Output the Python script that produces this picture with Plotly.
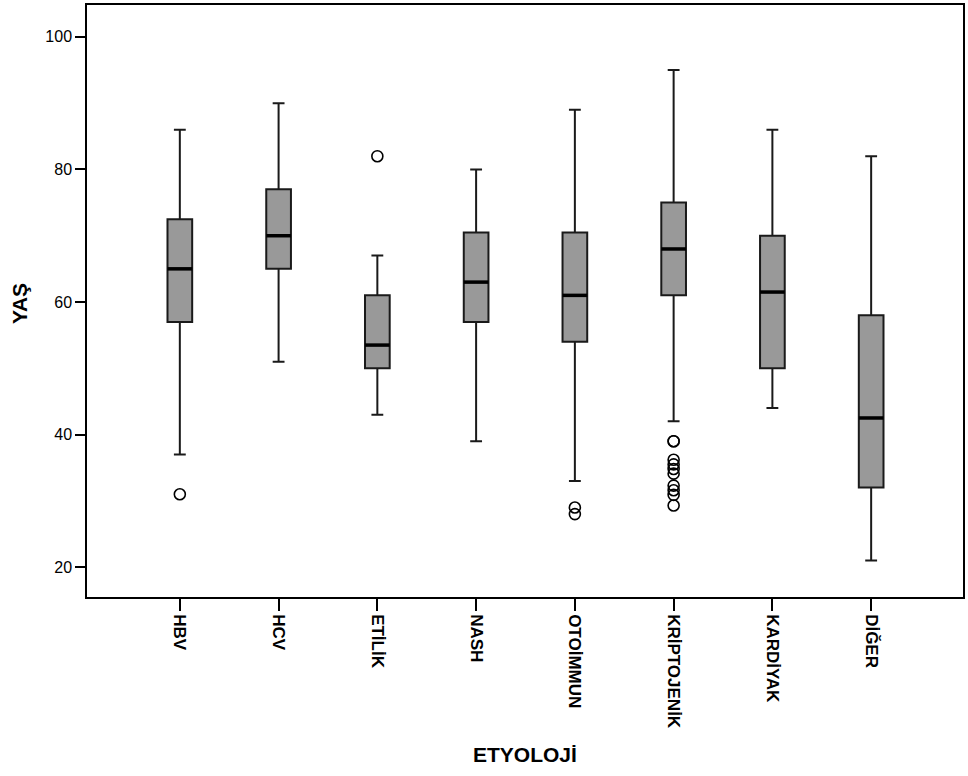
import plotly.graph_objects as go

categories = ["HBV", "HCV", "ETİLİK", "NASH", "OTOİMMUN", "KRİPTOJENİK", "KARDİYAK", "DİĞER"]
lower_whisker = [37, 51, 43, 39, 33, 42, 44, 21]
q1 = [57, 65, 50, 57, 54, 61, 50, 32]
median = [65, 70, 53.5, 63, 61, 68, 61.5, 42.5]
q3 = [72.5, 77, 61, 70.5, 70.5, 75, 70, 58]
upper_whisker = [86, 90, 67, 80, 89, 95, 86, 82]

outlier_cat = ["HBV", "ETİLİK", "OTOİMMUN", "OTOİMMUN",
               "KRİPTOJENİK", "KRİPTOJENİK", "KRİPTOJENİK", "KRİPTOJENİK", "KRİPTOJENİK",
               "KRİPTOJENİK", "KRİPTOJENİK", "KRİPTOJENİK", "KRİPTOJENİK", "KRİPTOJENİK"]
outlier_val = [31, 82, 29, 28,
               39, 39, 36.2, 35.5, 34.8, 34.1, 32.3, 31.6, 30.9, 29.3]

y_ticks = [20, 40, 60, 80, 100]

xpos = list(range(len(categories)))
box_w = 0.25

fig = go.Figure()
fig.add_trace(go.Box(
    x=xpos, q1=q1, median=median, q3=q3,
    lowerfence=lower_whisker, upperfence=upper_whisker,
    width=box_w, whiskerwidth=0.48,
    fillcolor="rgb(153,153,153)",
    line=dict(color="#1a1a1a", width=2),
    boxpoints=False, showlegend=False, hoverinfo="skip",
))

# thicker median lines
mx, my = [], []
for i, m in zip(xpos, median):
    mx += [i - box_w / 2, i + box_w / 2, None]
    my += [m, m, None]
fig.add_trace(go.Scatter(x=mx, y=my, mode="lines",
                         line=dict(color="black", width=3.5),
                         showlegend=False, hoverinfo="skip"))

ox = [categories.index(c) for c in outlier_cat]
fig.add_trace(go.Scatter(x=ox, y=outlier_val, mode="markers",
                         marker=dict(symbol="circle-open", size=11, color="black",
                                     line=dict(width=1.6, color="black")),
                         showlegend=False, hoverinfo="skip"))

fig.update_layout(
    width=968, height=776,
    margin=dict(l=87, r=3, t=3, b=179),
    plot_bgcolor="white", paper_bgcolor="white",
    font=dict(family="Liberation Sans, Arial, sans-serif", color="black"),
    xaxis=dict(
        range=[-0.94, 7.93],
        tickmode="array", tickvals=xpos, ticktext=categories,
        tickangle=90, ticks="outside", ticklen=12, tickwidth=2, tickcolor="black",
        tickfont=dict(size=17, weight="bold"),
        showline=True, mirror=True, linecolor="black", linewidth=1.5,
        showgrid=False, zeroline=False,
    ),
    yaxis=dict(
        range=[15.49, 104.81],
        tickmode="array", tickvals=y_ticks,
        ticks="outside", ticklen=10, tickwidth=2, tickcolor="black",
        tickfont=dict(size=16),
        showline=True, mirror=True, linecolor="black", linewidth=1.5,
        showgrid=False, zeroline=False,
    ),
    annotations=[
        dict(text="ETYOLOJİ", x=0.5, xref="paper", y=-0.266, yref="paper",
             xanchor="center", yanchor="middle", showarrow=False,
             font=dict(size=21, weight="bold")),
        dict(text="YAŞ", x=-0.0763, xref="paper", y=0.495, yref="paper",
             xanchor="center", yanchor="middle", showarrow=False, textangle=-90,
             font=dict(size=21, weight="bold")),
    ],
)

fig.write_html("out.html")
